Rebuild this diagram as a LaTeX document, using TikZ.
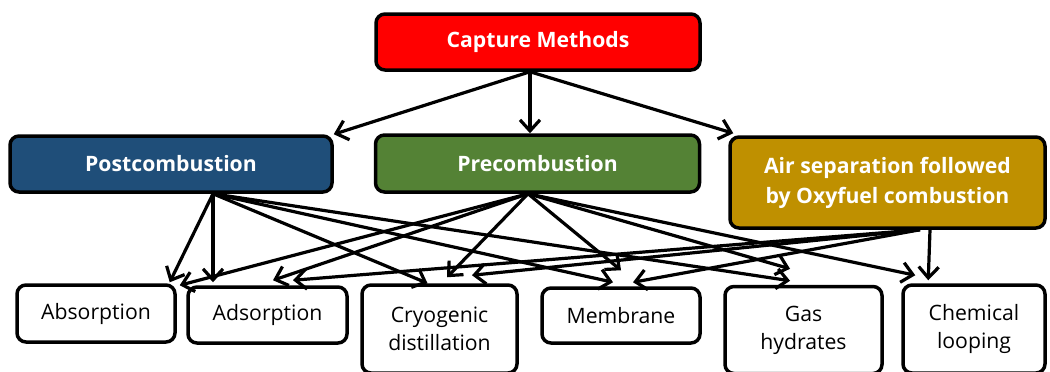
\documentclass[tikz,border=0pt]{standalone}
\usepackage{fontspec}
\setmainfont{Open Sans}
\usetikzlibrary{arrows.meta}
\definecolor{capred}{RGB}{255,0,0}
\definecolor{postblue}{RGB}{31,78,121}
\definecolor{pregreen}{RGB}{84,130,53}
\definecolor{airgold}{RGB}{191,144,0}
\begin{document}
\begin{tikzpicture}[x=0.5pt,y=-0.5pt,
  box/.style={draw=black,line width=1.75pt,rounded corners=4.5pt,align=center,inner sep=0pt},
  topbox/.style={box,text=white,font=\fontsize{10.6}{15}\selectfont\bfseries},
  botbox/.style={box,fill=white,font=\fontsize{10.6}{14}\selectfont},
  conn/.style={line width=1.6pt,-{Straight Barb[length=5.5pt,width=10pt]}}]
\useasboundingbox (0,0) rectangle (1050,371);
% top level
\node[topbox,fill=capred,minimum width=162pt,minimum height=28pt] (cm) at (538,42) {Capture Methods};
% middle level
\node[topbox,fill=postblue,minimum width=161pt,minimum height=28pt] (post) at (171,164) {Postcombustion};
\node[topbox,fill=pregreen,minimum width=162pt,minimum height=28.5pt] (pre) at (537.5,163.5) {Precombustion};
\node[topbox,fill=airgold,minimum width=157.5pt,minimum height=45.5pt] (air) at (887.5,182.5) {Air separation followed\\by Oxyfuel combustion};
% bottom level
\node[botbox,minimum width=79pt,minimum height=28.5pt] (abs) at (96,313.5) {Absorption};
\node[botbox,minimum width=79.5pt,minimum height=28pt] (ads) at (267.5,315) {Adsorption};
\node[botbox,minimum width=77.5pt,minimum height=44pt] (cryo) at (439.5,329) {Cryogenic\\distillation};
\node[botbox,minimum width=79pt,minimum height=27.5pt] (mem) at (621,315.5) {Membrane};
\node[botbox,minimum width=78.5pt,minimum height=43.5pt] (gas) at (803.5,330) {Gas\\hydrates};
\node[botbox,minimum width=71pt,minimum height=44pt] (chem) at (974,329) {Chemical\\looping};
% capture methods
\draw[conn] ([xshift=-4pt]cm.south) -- (post.north east);
\draw[conn] ([xshift=-4pt]cm.south) -- ([xshift=-3.75pt]pre.north);
\draw[conn] ([xshift=-4pt]cm.south) -- ([xshift=2.5pt,yshift=1pt]air.north west);
% postcombustion
\draw[conn] ([xshift=21pt]post.south) -- ([xshift=-3.5pt,yshift=0.5pt]abs.north east);
\draw[conn] ([xshift=21pt]post.south) -- ([xshift=-27.25pt,yshift=1.5pt]ads.north);
\draw[conn] ([xshift=21pt]post.south) -- ([xshift=-6pt,yshift=0pt]cryo.north);
\draw[conn] ([xshift=21pt]post.south) -- ([xshift=-4pt,yshift=2pt]mem.north);
\draw[conn] ([xshift=21pt]post.south) -- ([xshift=-6.75pt,yshift=2pt]gas.north);
% precombustion
\draw[conn] ([xshift=-4.75pt]pre.south) -- ([xshift=1.5pt,yshift=-1pt]abs.north east);
\draw[conn] ([xshift=-4.75pt]pre.south) -- ([xshift=2.75pt,yshift=2.5pt]ads.north);
\draw[conn] ([xshift=-4.75pt]pre.south) -- ([xshift=3.75pt,yshift=3pt]cryo.north);
\draw[conn] ([xshift=-4.75pt]pre.south) -- ([yshift=8pt]mem.north);
\draw[conn] ([xshift=-4.75pt]pre.south) -- ([xshift=-6.75pt,yshift=8pt]gas.north);
\draw[conn] ([xshift=-4.75pt]pre.south) -- ([xshift=7pt,yshift=4pt]chem.north west);
% air separation / oxyfuel
\draw[conn] ([xshift=16.25pt]air.south) -- ([xshift=12.75pt,yshift=2.5pt]ads.north);
\draw[conn] ([xshift=16.25pt]air.south) -- ([xshift=16.25pt,yshift=4pt]cryo.north);
\draw[conn] ([xshift=16.25pt]air.south) -- ([xshift=6pt,yshift=2pt]mem.north);
\draw[conn] ([xshift=21.25pt]air.south) -- ([xshift=13.5pt,yshift=1.5pt]chem.north west);
\end{tikzpicture}
\end{document}
